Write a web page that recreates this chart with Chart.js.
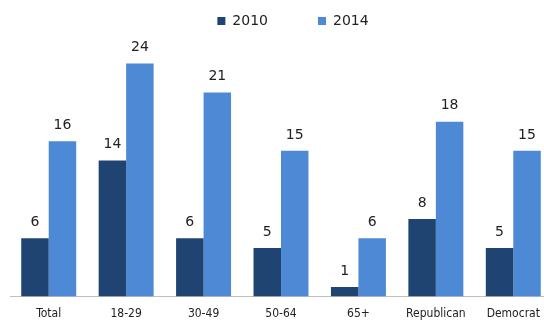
<!DOCTYPE html>
<html>
<head>
<meta charset="UTF-8">
<script src="https://cdn.jsdelivr.net/npm/chart.js"></script>
<style>
  html, body { margin: 0; padding: 0; background: #fff; overflow: hidden; }
  .caixa { width: 552px; height: 320px; }
</style>
</head>
<body>
<div class="caixa"><canvas id="grafico"></canvas></div>
<script>
// dados
var categorias = ["Total", "18-29", "30-49", "50-64", "65+", "Republican", "Democrat"];
var valores2010 = [6, 14, 6, 5, 1, 8, 5];
var valores2014 = [16, 24, 21, 15, 6, 18, 15];

var fonte = "'DejaVu Sans', sans-serif";
var fonteEixo = "'DejaVu Sans Condensed', 'DejaVu Sans', sans-serif";
var espacoLegenda = 50;

// escreve o valor em cima de cada barra
var rotulos = {
  id: 'rotulos',
  afterDatasetsDraw: function (chart) {
    var ctx = chart.ctx;
    ctx.save();
    ctx.fillStyle = '#222';
    ctx.font = '14px ' + fonte;
    ctx.textAlign = 'center';
    ctx.textBaseline = 'bottom';
    chart.data.datasets.forEach(function (ds, i) {
      chart.getDatasetMeta(i).data.forEach(function (barra, j) {
        ctx.fillText(ds.data[j], barra.x, barra.y - 9);
      });
    });
    ctx.restore();
  }
};

// legenda um pouco para a direita e la em cima, como na imagem
var moverLegenda = {
  id: 'moverLegenda',
  beforeDraw: function (chart) {
    var lg = chart.legend;
    if (!lg._movida) {
      lg.left += 12;
      lg.right += 12;
      lg.top = 14 - espacoLegenda;
      lg._movida = true;
    }
  }
};

new Chart(document.getElementById('grafico'), {
  type: 'bar',
  data: {
    labels: categorias,
    datasets: [
      { label: '2010', data: valores2010, backgroundColor: '#1f4472' },
      { label: '2014', data: valores2014, backgroundColor: '#4d89d4' }
    ]
  },
  options: {
    responsive: true,
    maintainAspectRatio: false,
    animation: false,
    layout: { padding: { left: 10, right: 0, top: 14, bottom: -11 } },
    datasets: { bar: { categoryPercentage: 0.71, barPercentage: 1.0 } },
    plugins: {
      legend: {
        position: 'top',
        maxHeight: 30,
        labels: {
          boxWidth: 8, boxHeight: 8, padding: espacoLegenda,
          color: '#222',
          font: { family: fonte, size: 14 }
        }
      },
      tooltip: { enabled: false }
    },
    scales: {
      x: {
        grid: { display: false, drawTicks: false },
        border: { color: '#c0c0c0' },
        ticks: { color: '#222', font: { family: fonteEixo, size: 12 }, padding: 10, maxRotation: 0 }
      },
      y: { display: false, min: 0, max: 26 }
    }
  },
  plugins: [rotulos, moverLegenda]
});
</script>
</body>
</html>
